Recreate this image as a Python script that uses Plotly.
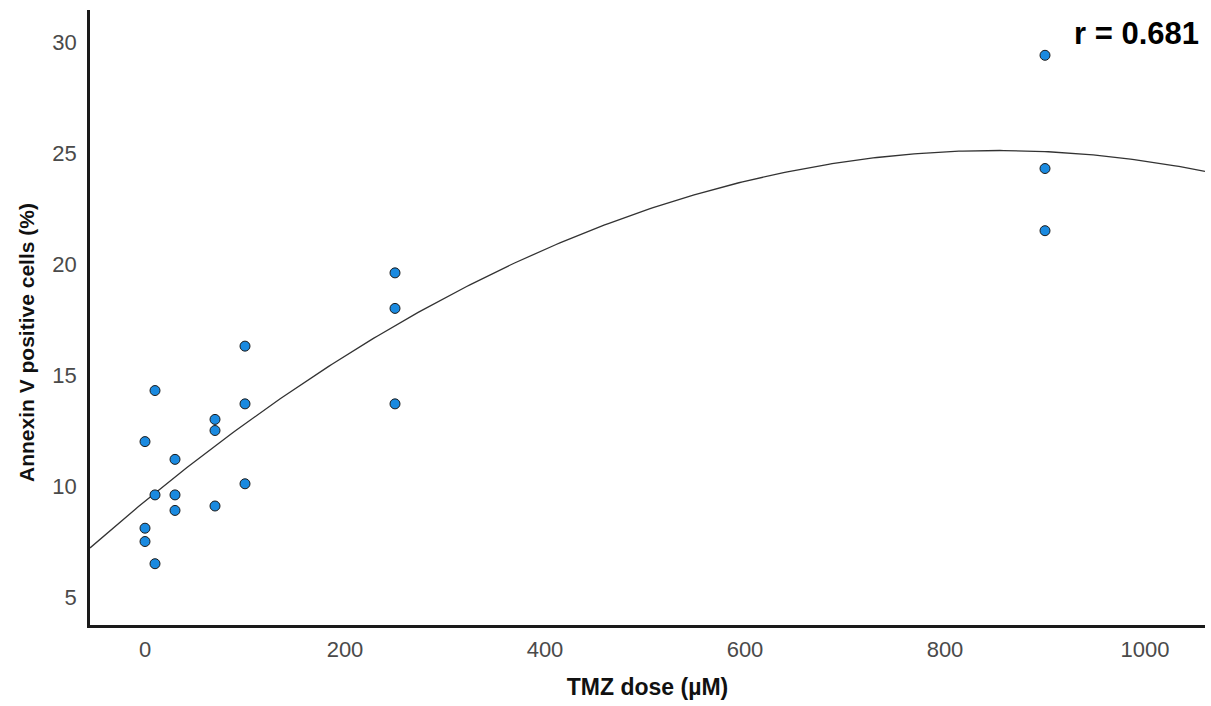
import numpy as np
import plotly.graph_objects as go

# TMZ dose (µM) and Annexin V positive cells (%)
dose = [0, 0, 0, 10, 10, 10, 30, 30, 30, 70, 70, 70, 100, 100, 100,
        250, 250, 250, 900, 900, 900]
annexin = [12.0, 8.1, 7.5, 14.3, 9.6, 6.5, 11.2, 9.6, 8.9, 13.0, 12.5, 9.1,
           16.3, 13.7, 10.1, 19.6, 18.0, 13.7, 29.4, 24.3, 21.5]

x_ticks = [0, 200, 400, 600, 800, 1000]
y_ticks = [5, 10, 15, 20, 25, 30]
r_label = "r = 0.681"
x_title = "TMZ dose (µM)"
y_title = "Annexin V positive cells (%)"

x_range = [-55, 1060]
y_range = [3.74, 31.44]

# quadratic fit line across the full x range
coef = np.polyfit(dose, annexin, 2)
xf = np.linspace(x_range[0], x_range[1], 300)
yf = np.polyval(coef, xf)

FONT = "Liberation Sans, Arial, sans-serif"

fig = go.Figure()
fig.add_trace(go.Scatter(
    x=xf, y=yf, mode="lines",
    line=dict(color="#333333", width=1.3),
    hoverinfo="skip", showlegend=False,
))
fig.add_trace(go.Scatter(
    x=dose, y=annexin, mode="markers",
    marker=dict(size=10, color="#1A8AE0", line=dict(color="#1a1a1a", width=1)),
    showlegend=False,
))

fig.add_annotation(
    xref="paper", yref="paper", x=1.0, y=1.0, xshift=-4, yshift=-4,
    xanchor="right", yanchor="top", showarrow=False,
    text="<b>" + r_label + "</b>",
    font=dict(family=FONT, size=31, color="#000000"),
)

# y-axis title, placed slightly below the vertical centre of the plot
fig.add_annotation(
    xref="paper", yref="paper", x=0, y=(625 - 343) / 615, xshift=-64,
    xanchor="center", yanchor="middle", showarrow=False, textangle=-90,
    text="<b>" + y_title + "</b>",
    font=dict(family=FONT, size=21, color="#111111"),
)

fig.update_layout(
    width=1211, height=706,
    margin=dict(l=90, r=6, t=10, b=81),
    paper_bgcolor="white", plot_bgcolor="white",
    font=dict(family=FONT),
    xaxis=dict(
        range=x_range, tickvals=x_ticks, showgrid=False, zeroline=False,
        showline=True, linecolor="#1a1a1a", linewidth=2.5, ticks="",
        tickfont=dict(size=22, color="#4a4a4a"),
        ticklabelstandoff=3,
        title=dict(text="<b>" + x_title + "</b>", standoff=18,
                   font=dict(size=23, color="#111111")),
    ),
    yaxis=dict(
        range=y_range, tickvals=y_ticks, showgrid=False, zeroline=False,
        showline=True, linecolor="#1a1a1a", linewidth=2.5, ticks="",
        tickfont=dict(size=22, color="#4a4a4a"),
        ticklabelstandoff=6,
    ),
)

fig.write_html("out.html")
